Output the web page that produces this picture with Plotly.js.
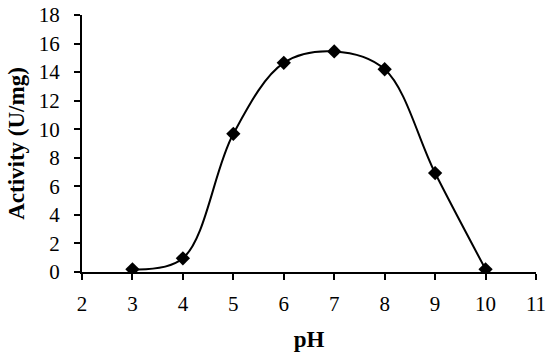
<!DOCTYPE html>
<html><head><meta charset="utf-8">
<script src="https://cdn.plot.ly/plotly-3.0.1.min.js"></script>
<style>html,body{margin:0;padding:0;background:#fff}#chart{width:550px;height:357px}</style>
</head><body><div id="chart"></div>
<script>
const pH = [3, 4, 5, 6, 7, 8, 9, 10];
const activity = [0.19, 0.96, 9.68, 14.65, 15.45, 14.2, 6.93, 0.19];
const xTicks = [2, 3, 4, 5, 6, 7, 8, 9, 10, 11];
const yTicks = [0, 2, 4, 6, 8, 10, 12, 14, 16, 18];

const fam = '"Times New Roman", "Liberation Serif", serif';
const font = {family: fam, color: '#000'};
Plotly.newPlot('chart', [{
  x: pH, y: activity, type: 'scatter', mode: 'lines+markers',
  line: {shape: 'spline', smoothing: 1, color: '#000', width: 2},
  marker: {symbol: 'diamond', size: 11, color: '#000'}
}], {
  width: 550, height: 357,
  margin: {l: 82, r: 14, t: 15, b: 85},
  paper_bgcolor: '#fff', plot_bgcolor: '#fff',
  showlegend: false,
  font: Object.assign({size: 21}, font),
  xaxis: {
    range: [2, 11], tickvals: xTicks, ticktext: xTicks.map(String),
    showgrid: false, zeroline: false, showline: true, linecolor: '#000', linewidth: 2,
    ticks: 'outside', ticklen: 6, tickwidth: 2, tickcolor: '#000',
    ticklabelstandoff: 6,
    tickfont: Object.assign({size: 21}, font),
    title: {text: '<b>pH</b>', font: Object.assign({size: 23}, font), standoff: 16}
  },
  yaxis: {
    range: [0, 18], tickvals: yTicks, ticktext: yTicks.map(String),
    showgrid: false, zeroline: false, showline: true, linecolor: '#000', linewidth: 2,
    ticks: 'outside', ticklen: 6, tickwidth: 2, tickcolor: '#000',
    ticklabelstandoff: 10,
    tickfont: Object.assign({size: 21}, font),
    title: {text: '<b>Activity (U/mg)</b>', font: Object.assign({size: 23}, font), standoff: 8}
  }
}, {displayModeBar: false, staticPlot: true});
</script></body></html>
